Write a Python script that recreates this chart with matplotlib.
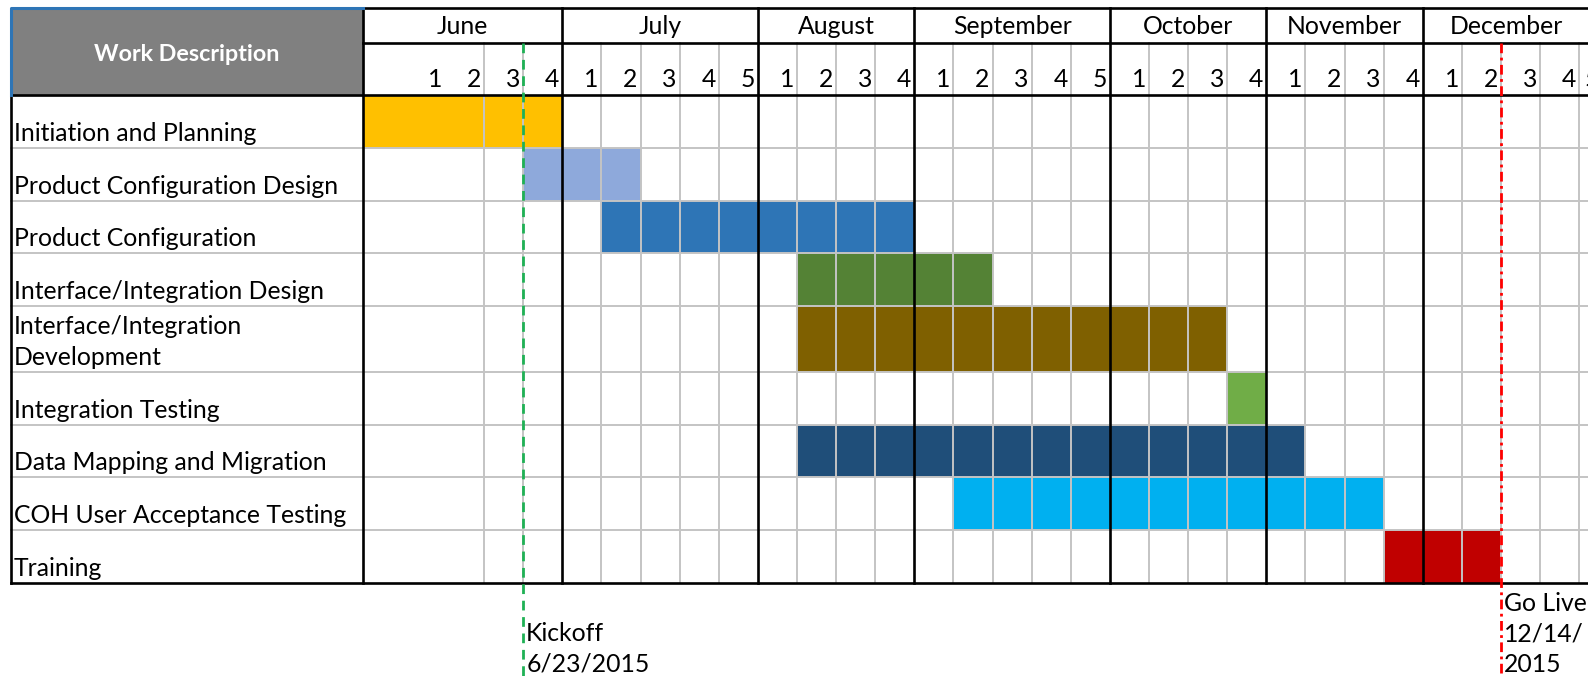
import numpy as np
import matplotlib.pyplot as plt

# ---- data ----
months = ["June", "July", "August", "September", "October", "November", "December"]
weeks_per_month = [4, 5, 4, 5, 4, 4, 5]

tasks = ["Initiation and Planning", "Product Configuration Design", "Product Configuration",
         "Interface/Integration Design", "Interface/Integration\nDevelopment",
         "Integration Testing", "Data Mapping and Migration",
         "COH User Acceptance Testing", "Training"]
# week index (0 = June wk1), end is exclusive
start_week = [0, 3, 5, 10, 10, 21, 10, 14, 25]
end_week = [4, 6, 13, 15, 21, 22, 23, 25, 28]
colors = ["#FFC000", "#8EA9DB", "#2E75B6", "#548235", "#7F6000",
          "#70AD47", "#1F4E79", "#00B0F0", "#C00000"]

milestone_labels = ["Kickoff\n6/23/2015", "Go Live\n12/14/\n2015"]
milestone_edge = [3, 28]
milestone_colors = ["#1FB155", "#FF0000"]

# ---- layout (pixels) ----
W, H = 1588, 677
LEFT = 11
DESC_R = 362.6
FIRST_W = 82.4
WEEK_W = 39.11
LAST_W = 10
TOP = 8.1
MONTH_B = 42.5
HEAD_B = 95.2
ROW_H = 52.7
TALL_H = 65.8

n_weeks = sum(weeks_per_month)
widths = [FIRST_W] + [WEEK_W] * (n_weeks - 2) + [LAST_W]
edges = DESC_R + np.concatenate([[0], np.cumsum(widths)])
month_edges = np.concatenate([[0], np.cumsum(weeks_per_month)])

row_h = [TALL_H if "\n" in t else ROW_H for t in tasks]
row_top = HEAD_B + np.concatenate([[0], np.cumsum(row_h)])
BOTTOM = row_top[-1]

FONT = "Lato"
FS = 17.8
BLACK_LW = 1.9
GRAY = "#C4C4C4"

fig = plt.figure(figsize=(W / 100, H / 100), dpi=100)
ax = fig.add_axes([0, 0, 1, 1])
ax.set_xlim(0, W)
ax.set_ylim(H, 0)
ax.axis("off")

# header cell
ax.add_patch(plt.Rectangle((LEFT, TOP), DESC_R - LEFT, HEAD_B - TOP, color="#808080", zorder=0))
ax.text((LEFT + DESC_R) / 2, (TOP + HEAD_B) / 2 + 3, "Work Description", color="white",
        fontweight="bold", fontsize=FS - 1, family=FONT, ha="center", va="center")

# bars
for i in range(len(tasks)):
    l = edges[start_week[i]]
    r = edges[end_week[i]]
    ax.barh(row_top[i] + row_h[i] / 2, r - l, left=l, height=row_h[i],
            color=colors[i], zorder=1)

# gray week lines
for k in range(2, n_weeks + 1):
    if k in month_edges:
        continue
    ax.plot([edges[k], edges[k]], [MONTH_B, BOTTOM], color=GRAY, lw=1.4, zorder=2)

# gray row lines
for y in row_top[1:-1]:
    ax.plot([LEFT, W], [y, y], color=GRAY, lw=1.4, zorder=2)

# black lines
for m in month_edges:
    ax.plot([edges[m], edges[m]], [TOP, BOTTOM], color="black", lw=BLACK_LW, zorder=3)
ax.plot([LEFT, LEFT], [HEAD_B, BOTTOM], color="black", lw=BLACK_LW, zorder=3)
ax.plot([DESC_R, W], [TOP, TOP], color="black", lw=BLACK_LW, zorder=3)
ax.plot([DESC_R, W], [MONTH_B, MONTH_B], color="black", lw=BLACK_LW, zorder=3)
ax.plot([LEFT, W], [HEAD_B, HEAD_B], color="black", lw=BLACK_LW, zorder=3)
ax.plot([LEFT, W], [BOTTOM, BOTTOM], color="black", lw=BLACK_LW, zorder=3)
# blue border on header cell
ax.plot([LEFT, LEFT, DESC_R], [HEAD_B, TOP, TOP], color="#2E75B6", lw=2.2, zorder=3)

# month and week labels
for j, m in enumerate(months):
    a, b = edges[month_edges[j]], edges[month_edges[j + 1]]
    ax.text((a + b) / 2, (TOP + MONTH_B) / 2 + 1, m, fontsize=FS, family=FONT,
            ha="center", va="center")
    for w in range(weeks_per_month[j]):
        k = month_edges[j] + w
        if edges[k + 1] - edges[k] < 20:
            # narrow cut-off column: label starts at its left edge
            ax.text(edges[k] + 5, HEAD_B - 8, str(w + 1), fontsize=FS, family=FONT,
                    ha="left", va="baseline")
        else:
            ax.text(edges[k + 1] - 3, HEAD_B - 8, str(w + 1), fontsize=FS, family=FONT,
                    ha="right", va="baseline")

# task labels
for i, t in enumerate(tasks):
    ax.text(LEFT + 3, row_top[i + 1] - 7, t, fontsize=FS, family=FONT,
            ha="left", va="baseline", linespacing=1.4)

# milestones
ms_styles = [(0, (3.5, 2.4)), (0, (3.5, 1.6, 1, 1.6))]
for i, lab in enumerate(milestone_labels):
    x = edges[milestone_edge[i]]
    ax.plot([x, x], [MONTH_B, H], color=milestone_colors[i], lw=2,
            linestyle=ms_styles[i], zorder=4)
    ax.text(x + 3, H - 5, lab, fontsize=FS, family=FONT, ha="left", va="baseline",
            linespacing=1.4, zorder=4)

fig.savefig("out.png", dpi=100)
